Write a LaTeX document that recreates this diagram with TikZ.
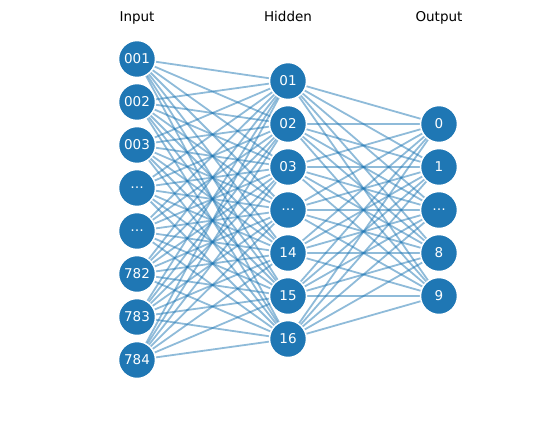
\documentclass[tikz,border=0pt]{standalone}
\usepackage{fontspec}
\setmainfont{DejaVu Sans}
\definecolor{nnblue}{HTML}{1F77B4}
\begin{document}
\begin{tikzpicture}[x=1pt,y=-1pt,
  neuron/.style={circle,fill=nnblue,draw=white,line width=1.5pt,minimum size=37pt,inner sep=0pt,
    text=white,font=\fontsize{13.5}{16}\selectfont},
  layerlabel/.style={anchor=base,font=\fontsize{13.5}{16}\selectfont},
  synapse/.style={draw=nnblue,draw opacity=0.5,line width=1.8pt}]
\useasboundingbox (0,0) rectangle (549,429);
% layer titles
\node[layerlabel] (tin) at (137,21) {Input};
\node[layerlabel] (thid) at (288,21) {Hidden};
\node[layerlabel] (tout) at (439,21) {Output};
% neuron positions (drawn after the connections)
\foreach \i in {1,...,8}
  \coordinate (i\i) at (137,{59+43*(\i-1)});
\foreach \i in {1,...,7}
  \coordinate (h\i) at (288,{81+43*(\i-1)});
\foreach \i in {1,...,5}
  \coordinate (o\i) at (439,{124+43*(\i-1)});
% fully connected layers
\foreach \a in {1,...,8}
  \foreach \b in {1,...,7}
    \draw[synapse] (i\a) -- (h\b);
\foreach \a in {1,...,7}
  \foreach \b in {1,...,5}
    \draw[synapse] (h\a) -- (o\b);
% neurons
\foreach \lab [count=\i] in {001,002,003,…,…,782,783,784}
  \node[neuron] (ni\i) at (i\i) {\lab};
\foreach \lab [count=\i] in {01,02,03,…,14,15,16}
  \node[neuron] (nh\i) at (h\i) {\lab};
\foreach \lab [count=\i] in {0,1,…,8,9}
  \node[neuron] (no\i) at (o\i) {\lab};
\end{tikzpicture}
\end{document}
